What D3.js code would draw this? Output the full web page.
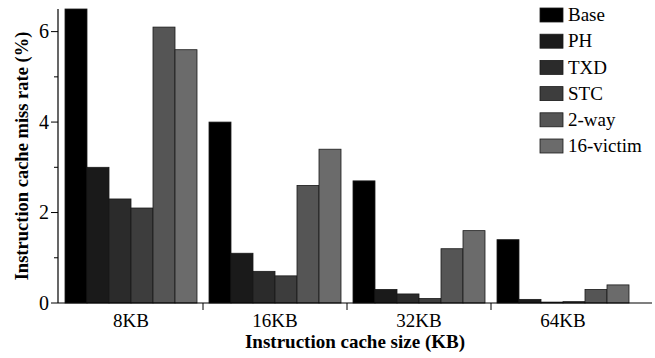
<!DOCTYPE html>
<html>
<head>
<meta charset="utf-8">
<script src="https://cdn.jsdelivr.net/npm/d3@7"></script>
</head>
<body style="margin:0;background:#fff">
<svg width="655" height="358"></svg>
<script>
// categories and series
const sizes = ["8KB", "16KB", "32KB", "64KB"];
const schemes = ["Base", "PH", "TXD", "STC", "2-way", "16-victim"];

// miss rate (%) per scheme, one value per cache size
const base = [6.5, 4.0, 2.7, 1.4];
const ph = [3.0, 1.1, 0.3, 0.08];
const txd = [2.3, 0.7, 0.2, 0.02];
const stc = [2.1, 0.6, 0.1, 0.03];
const twoWay = [6.1, 2.6, 1.2, 0.3];
const victim16 = [5.6, 3.4, 1.6, 0.4];

const yTicks = [0, 2, 4, 6];

const seriesValues = [base, ph, txd, stc, twoWay, victim16];
const colors = ["#000000", "#1a1a1a", "#2b2b2b", "#3d3d3d", "#555555", "#6b6b6b"];
const font = "'Liberation Serif', 'Times New Roman', serif";

const svg = d3.select("svg");

const x = d3.scaleBand().domain(sizes).range([59, 635]).paddingInner(0).paddingOuter(0);
const x1 = d3.scaleBand().domain(schemes).range([6, x.bandwidth() - 6]);
const y = d3.scaleLinear().domain([0, 6.5]).range([303, 9]);

// bars
const groups = svg.append("g")
  .selectAll("g")
  .data(sizes)
  .join("g")
  .attr("transform", d => `translate(${x(d)},0)`);

groups.selectAll("rect")
  .data((d, i) => schemes.map((s, j) => ({ s, j, v: seriesValues[j][i] })))
  .join("rect")
  .attr("x", d => x1(d.s))
  .attr("y", d => y(d.v))
  .attr("width", x1.bandwidth())
  .attr("height", d => y(0) - y(d.v))
  .attr("fill", d => colors[d.j])
  .attr("stroke", "#1a1a1a")
  .attr("stroke-width", 0.8);

// y axis
const yAxis = svg.append("g").attr("transform", "translate(58,0)");
yAxis.append("line")
  .attr("x1", 0).attr("x2", 0)
  .attr("y1", y(6.5)).attr("y2", y(0))
  .attr("stroke", "#000").attr("stroke-width", 1.2);
yAxis.selectAll(".major")
  .data(yTicks)
  .join("line")
  .attr("x1", -7).attr("x2", 0)
  .attr("y1", d => y(d)).attr("y2", d => y(d))
  .attr("stroke", "#000").attr("stroke-width", 1);
yAxis.selectAll(".minor")
  .data([1, 3, 5])
  .join("line")
  .attr("x1", -4).attr("x2", 0)
  .attr("y1", d => y(d)).attr("y2", d => y(d))
  .attr("stroke", "#000").attr("stroke-width", 1);
yAxis.selectAll("text")
  .data(yTicks)
  .join("text")
  .attr("x", -9)
  .attr("y", d => y(d))
  .attr("dy", "0.33em")
  .attr("text-anchor", "end")
  .style("font-family", font)
  .style("font-size", "20px")
  .text(d => d);

// x axis
const xAxis = svg.append("g");
xAxis.append("line")
  .attr("x1", 58).attr("x2", 652)
  .attr("y1", 303).attr("y2", 303)
  .attr("stroke", "#000").attr("stroke-width", 1.2);
xAxis.selectAll(".sep")
  .data(sizes.slice(1))
  .join("line")
  .attr("x1", d => x(d)).attr("x2", d => x(d))
  .attr("y1", 303).attr("y2", 310)
  .attr("stroke", "#000").attr("stroke-width", 1);
xAxis.selectAll("text")
  .data(sizes)
  .join("text")
  .attr("x", d => x(d) + x.bandwidth() / 2)
  .attr("y", 327)
  .attr("text-anchor", "middle")
  .style("font-family", font)
  .style("font-size", "19px")
  .text(d => d);

// axis titles
svg.append("text")
  .attr("x", 355)
  .attr("y", 348)
  .attr("text-anchor", "middle")
  .style("font-family", font)
  .style("font-size", "19px")
  .style("font-weight", "bold")
  .text("Instruction cache size (KB)");

svg.append("text")
  .attr("transform", "translate(28,156) rotate(-90)")
  .attr("text-anchor", "middle")
  .style("font-family", font)
  .style("font-size", "18.5px")
  .style("font-weight", "bold")
  .text("Instruction cache miss rate (%)");

// legend
const legend = svg.append("g")
  .selectAll("g")
  .data(schemes)
  .join("g")
  .attr("transform", (d, i) => `translate(540,${15 + i * 26.2})`);
legend.append("rect")
  .attr("x", 0).attr("y", -7)
  .attr("width", 23).attr("height", 14)
  .attr("fill", (d, i) => colors[i])
  .attr("stroke", "#1a1a1a")
  .attr("stroke-width", 0.8);
legend.append("text")
  .attr("x", 28)
  .attr("dy", "0.33em")
  .style("font-family", font)
  .style("font-size", "19px")
  .text(d => d);
</script>
</body>
</html>
